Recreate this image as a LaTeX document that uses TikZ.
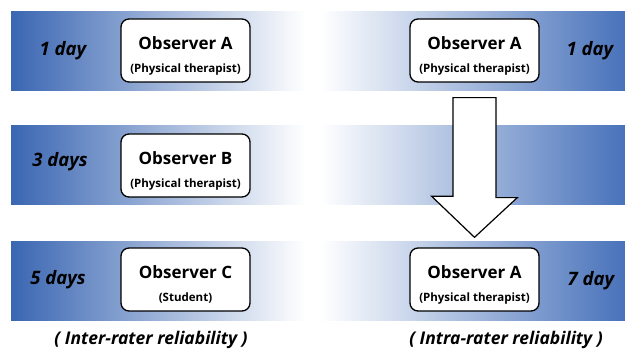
\documentclass[tikz,border=0pt]{standalone}
\usepackage{fontspec}
\setmainfont{Open Sans}
\usetikzlibrary{calc}
\definecolor{bandblue}{RGB}{58,102,178}
\definecolor{bandblueR}{RGB}{72,114,186}
\newcommand{\obstext}[2]{\rule{0pt}{23pt}{\fontsize{17}{20}\selectfont\bfseries #1}\\[11pt]{\fontsize{11.5}{13}\selectfont\bfseries #2}}
\begin{document}
\begin{tikzpicture}[
    x=1pt, y=-1pt,
    obsbox/.style={rectangle, draw, line width=1.3pt, rounded corners=8pt, fill=white,
        minimum width=129pt, minimum height=63pt, inner sep=0pt, align=center},
    daylabel/.style={font=\fontsize{18.5}{22}\selectfont\bfseries\itshape},
    relabel/.style={font=\fontsize{17.5}{21}\selectfont\bfseries\itshape},
    blockarrow/.style={draw, line width=1.2pt, fill=white, line join=miter}
]
    \useasboundingbox (0,0) rectangle (625,350);
    % bands
    \shade[left color=bandblue, right color=white] (11,12) rectangle (305,91);
    \shade[left color=white, right color=bandblueR] (320,12) rectangle (625,91);
    \shade[left color=bandblue, right color=white] (11,126) rectangle (305,205);
    \shade[left color=white, right color=bandblueR] (320,126) rectangle (625,205);
    \shade[left color=bandblue, right color=white] (11,242) rectangle (305,321);
    \shade[left color=white, right color=bandblueR] (320,242) rectangle (625,321);

    \node[obsbox] (l1) at (185.5,50.5) {\obstext{Observer A}{(Physical therapist)}};
    \node[obsbox] (l2) at (185.5,165.5) {\obstext{Observer B}{(Physical therapist)}};
    \node[obsbox] (l3) at (185.5,279.5) {\obstext{Observer C}{(Student)}};
    \node[obsbox] (r1) at (474.5,50.5) {\obstext{Observer A}{(Physical therapist)}};
    \node[obsbox] (r3) at (474.5,279.5) {\obstext{Observer A}{(Physical therapist)}};

    \node[daylabel] (d1) at (63,51) {1 day};
    \node[daylabel] (d2) at (60,162) {3 days};
    \node[daylabel] (d3) at (58,280) {5 days};
    \node[daylabel] (d4) at (590,51) {1 day};
    \node[daylabel] (d5) at (591,281) {7 day};

    \node[relabel] (inter) at (151,340) {( Inter-rater reliability )};
    \node[relabel] (intra) at (506,340) {( Intra-rater reliability )};

    % arrow from first to last session
    \draw[blockarrow] ($(r1.south)+(-21.5,15)$) -- ++(43,0) -- ++(0,100) -- ++(21.3,0)
        -- ($(r3.north)+(0,-10)$) -- ++(-42.8,-41) -- ++(21.3,0) -- cycle;
\end{tikzpicture}
\end{document}
